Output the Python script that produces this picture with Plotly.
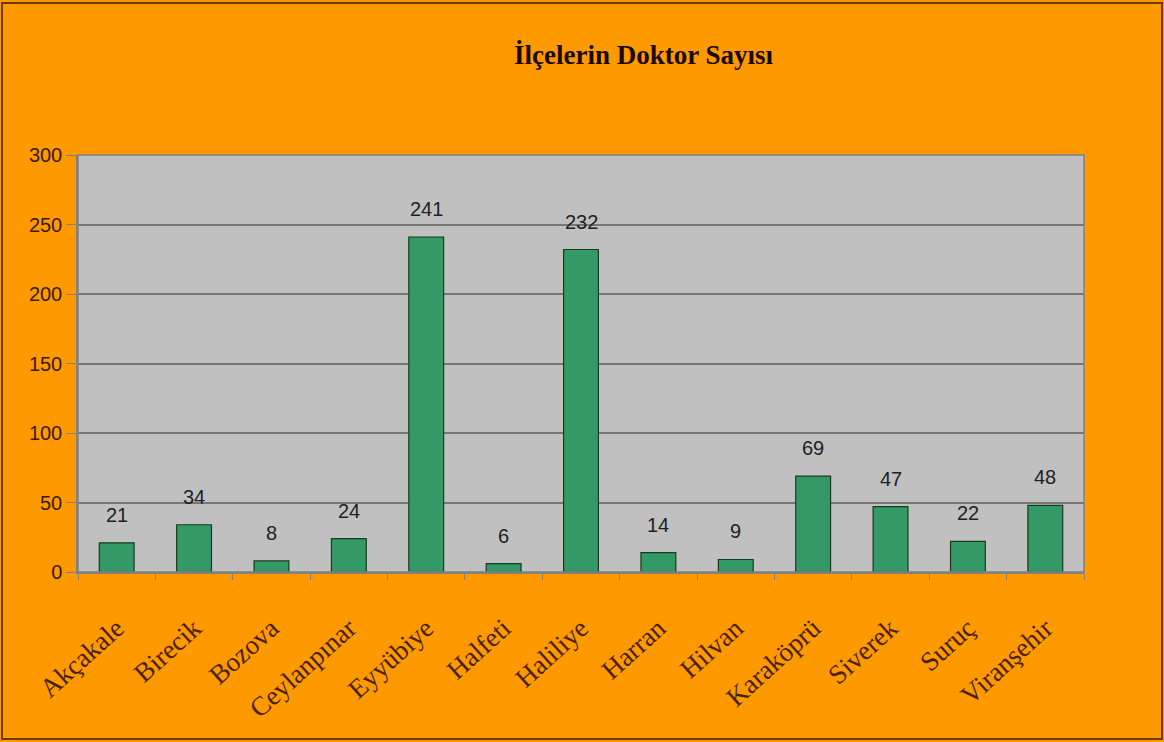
import plotly.graph_objects as go

categories = ["Akçakale", "Birecik", "Bozova", "Ceylanpınar", "Eyyübiye", "Halfeti",
              "Haliliye", "Harran", "Hilvan", "Karaköprü", "Siverek", "Suruç", "Viranşehir"]
values = [21, 34, 8, 24, 241, 6, 232, 14, 9, 69, 47, 22, 48]
y_ticks = [0, 50, 100, 150, 200, 250, 300]
title_text = "İlçelerin Doktor Sayısı"

W, H = 1164, 742
L, R, T, B = 78, 80, 155, 170
pw, ph = W - L - R, H - T - B

def px_x(p):
    return (p - L) / pw

def px_y(p):
    return (H - B - p) / ph

fig = go.Figure()
fig.add_trace(go.Bar(
    x=categories, y=values, width=0.45,
    marker=dict(color="#339966", line=dict(color="#1a3a1a", width=1.2)),
    hoverinfo="x+y",
))

for c, v in zip(categories, values):
    fig.add_annotation(x=c, y=v, text=str(v), showarrow=False, yanchor="bottom",
                       yshift=15, font=dict(family="Arial", size=20, color="#222222"))

fig.add_annotation(xref="paper", yref="paper", x=px_x(643), y=px_y(55),
                   text="<b>" + title_text + "</b>",
                   showarrow=False, xanchor="center", yanchor="middle",
                   font=dict(family="Liberation Serif", size=27, color="#1a0a00"))

fig.add_shape(type="rect", xref="paper", yref="paper",
              x0=px_x(2), x1=px_x(1162), y0=px_y(739), y1=px_y(3),
              line=dict(color="#6b3a10", width=2), fillcolor="rgba(0,0,0,0)", layer="below")

fig.update_layout(
    width=W, height=H,
    margin=dict(l=L, r=R, t=T, b=B, autoexpand=False),
    paper_bgcolor="#FF9900", plot_bgcolor="#C0C0C0",
    showlegend=False,
    xaxis=dict(tickangle=-42, tickson="boundaries", ticks="outside", ticklen=6,
               tickcolor="#808080", showline=True, linecolor="#808080", linewidth=1.5,
               tickfont=dict(family="Liberation Serif", size=27, color="#4a2200"),
               ticklabelstandoff=28,
               showgrid=False, mirror=False),
    yaxis=dict(range=[0, 300], tickvals=y_ticks, ticks="outside", ticklen=10,
               tickcolor="#808080", showline=True, linecolor="#808080", linewidth=1.5,
               gridcolor="#777777", gridwidth=1.5, zeroline=False,
               tickfont=dict(family="Arial", size=20, color="#3a1a00")),
    bargap=0.55,
)
fig.add_shape(type="rect", xref="paper", yref="paper", x0=0, x1=1, y0=0, y1=1,
              line=dict(color="#808080", width=1.5))

fig.write_html("out.html", config={"displayModeBar": False},
               post_script="document.body.style.margin='0';document.body.style.overflow='hidden';")
